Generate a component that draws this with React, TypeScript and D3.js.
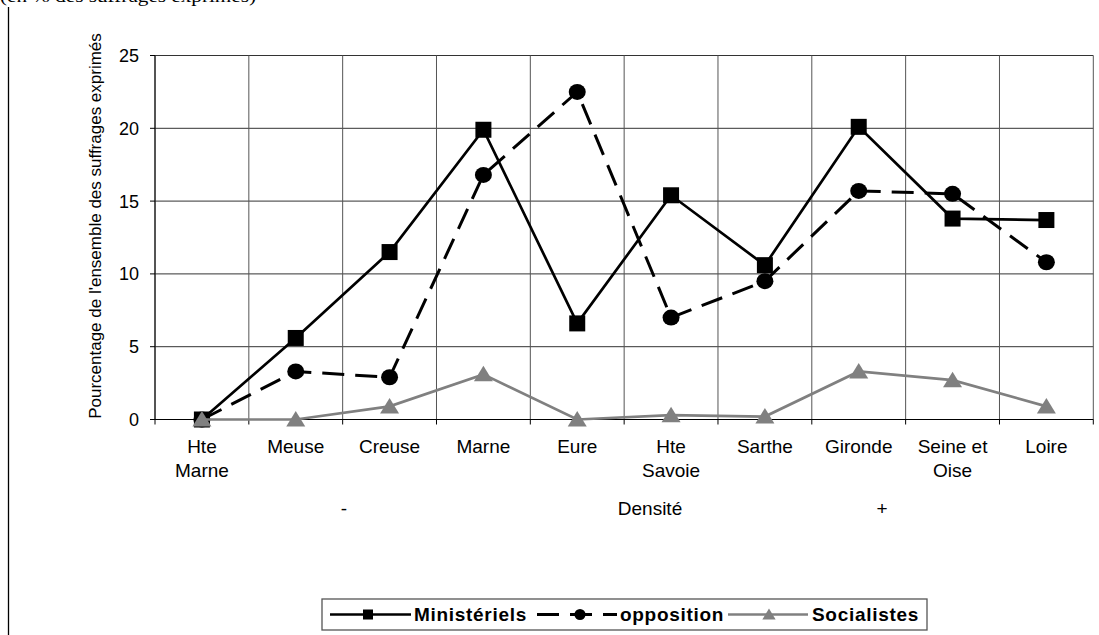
import React from "react";
import * as d3 from "d3";

const categories = ["Hte\nMarne", "Meuse", "Creuse", "Marne", "Eure", "Hte\nSavoie", "Sarthe", "Gironde", "Seine et\nOise", "Loire"];
const ministeriels = [0, 5.6, 11.5, 19.9, 6.6, 15.4, 10.6, 20.1, 13.8, 13.7];
const opposition = [0, 3.3, 2.9, 16.8, 22.5, 7.0, 9.5, 15.7, 15.5, 10.8];
const socialistes = [0, 0, 0.9, 3.1, 0, 0.3, 0.2, 3.3, 2.7, 0.9];
const yTicks = [0, 5, 10, 15, 20, 25];
const densityLabels = [
  { text: "-", x: 344 },
  { text: "Densité", x: 650 },
  { text: "+", x: 882 },
];
const seriesNames = ["Ministériels", "opposition", "Socialistes"];

const W = 1099;
const H = 635;
const left = 155;
const right = 1093.3;
const top = 55.5;
const bottom = 419.5;
const FONT = "'Liberation Sans', Arial, sans-serif";

export default function App() {
  const x = d3.scaleBand<number>().domain(d3.range(categories.length)).range([left, right]).padding(0);
  const y = d3.scaleLinear().domain([0, 25]).range([bottom, top]);
  const cx = (i: number) => (x(i) as number) + x.bandwidth() / 2;
  const line = d3
    .line<number>()
    .x((_, i) => cx(i))
    .y((d) => y(d));

  const sq = 16;
  const triPath = (px: number, py: number, s = 1) =>
    `M${px},${py - 8.5 * s}L${px + 9.5 * s},${py + 7 * s}L${px - 9.5 * s},${py + 7 * s}Z`;

  const boundaries = d3.range(categories.length + 1).map((i) => left + i * x.bandwidth());
  const ly = 614.5;

  return (
    <svg width={W} height={H} style={{ position: "absolute", left: 0, top: 0, background: "#fff" }}>
      {/* cropped heading */}
      <text x={0} y={1.5} fontFamily="'Liberation Serif', 'Times New Roman', serif" fontSize={16} textLength={256} lengthAdjust="spacingAndGlyphs">
        (en % des suffrages exprimés)
      </text>
      <line x1={8.5} x2={8.5} y1={7} y2={H} stroke="#000" strokeWidth={1.3} />

      {/* grid */}
      {yTicks.map((t) => (
        <line key={"h" + t} x1={left} x2={right} y1={y(t)} y2={y(t)} stroke="#333" strokeWidth={1} />
      ))}
      {boundaries.map((bx, i) => (
        <line key={"v" + i} x1={bx} x2={bx} y1={top} y2={bottom} stroke="#555" strokeWidth={1} />
      ))}
      {/* axes */}
      <line x1={left} x2={left} y1={top} y2={bottom} stroke="#000" strokeWidth={1} />
      <line x1={left} x2={right} y1={bottom} y2={bottom} stroke="#000" strokeWidth={1} />
      {yTicks.map((t) => (
        <g key={"yt" + t}>
          <line x1={left - 5} x2={left} y1={y(t)} y2={y(t)} stroke="#000" />
          <text x={139} y={y(t) + 6.5} textAnchor="end" fontFamily={FONT} fontSize={18}>
            {t}
          </text>
        </g>
      ))}
      {boundaries.map((bx, i) => (
        <line key={"xt" + i} x1={bx} x2={bx} y1={bottom} y2={bottom + 5} stroke="#000" />
      ))}
      {categories.map((c, i) => (
        <text key={"xl" + i} textAnchor="middle" fontFamily={FONT} fontSize={19}>
          {c.split("\n").map((ln, j) => (
            <tspan key={j} x={cx(i)} y={453 + j * 23.5}>
              {ln}
            </tspan>
          ))}
        </text>
      ))}
      {densityLabels.map((d) => (
        <text key={d.text} x={d.x} y={514.5} textAnchor="middle" fontFamily={FONT} fontSize={19}>
          {d.text}
        </text>
      ))}
      <text transform="translate(101,226) rotate(-90)" textAnchor="middle" fontFamily={FONT} fontSize={17}>
        Pourcentage de l'ensemble des suffrages exprimés
      </text>

      {/* series */}
      <path d={line(ministeriels) || ""} fill="none" stroke="#000" strokeWidth={2.7} />
      {ministeriels.map((v, i) => (
        <rect key={"m" + i} x={cx(i) - sq / 2} y={y(v) - sq / 2} width={sq} height={sq} fill="#000" />
      ))}
      <path d={line(opposition) || ""} fill="none" stroke="#000" strokeWidth={3} strokeDasharray="22,11" />
      {opposition.map((v, i) => (
        <ellipse key={"o" + i} cx={cx(i)} cy={y(v)} rx={8.5} ry={8} fill="#000" />
      ))}
      <path d={line(socialistes) || ""} fill="none" stroke="#808080" strokeWidth={2.7} />
      {socialistes.map((v, i) => (
        <path key={"s" + i} d={triPath(cx(i), y(v))} fill="#808080" />
      ))}

      {/* legend */}
      <rect x={322} y={599} width={605} height={31} fill="#fff" stroke="#555" strokeWidth={1.3} />
      <line x1={330} x2={411} y1={ly} y2={ly} stroke="#000" strokeWidth={2.7} />
      <rect x={368 - 5} y={ly - 5} width={10} height={10} fill="#000" />
      <text x={414} y={621} fontFamily={FONT} fontSize={19} fontWeight="bold" letterSpacing={0.7}>
        {seriesNames[0]}
      </text>
      <line x1={537} x2={617} y1={ly} y2={ly} stroke="#000" strokeWidth={3} strokeDasharray="22,11" />
      <circle cx={580} cy={ly} r={5.5} fill="#000" />
      <text x={620} y={621} fontFamily={FONT} fontSize={19} fontWeight="bold" letterSpacing={0.7}>
        {seriesNames[1]}
      </text>
      <line x1={728} x2={808} y1={ly} y2={ly} stroke="#808080" strokeWidth={2.7} />
      <path d={triPath(769, ly, 0.7)} fill="#808080" />
      <text x={812} y={621} fontFamily={FONT} fontSize={19} fontWeight="bold" letterSpacing={0.7}>
        {seriesNames[2]}
      </text>
    </svg>
  );
}
